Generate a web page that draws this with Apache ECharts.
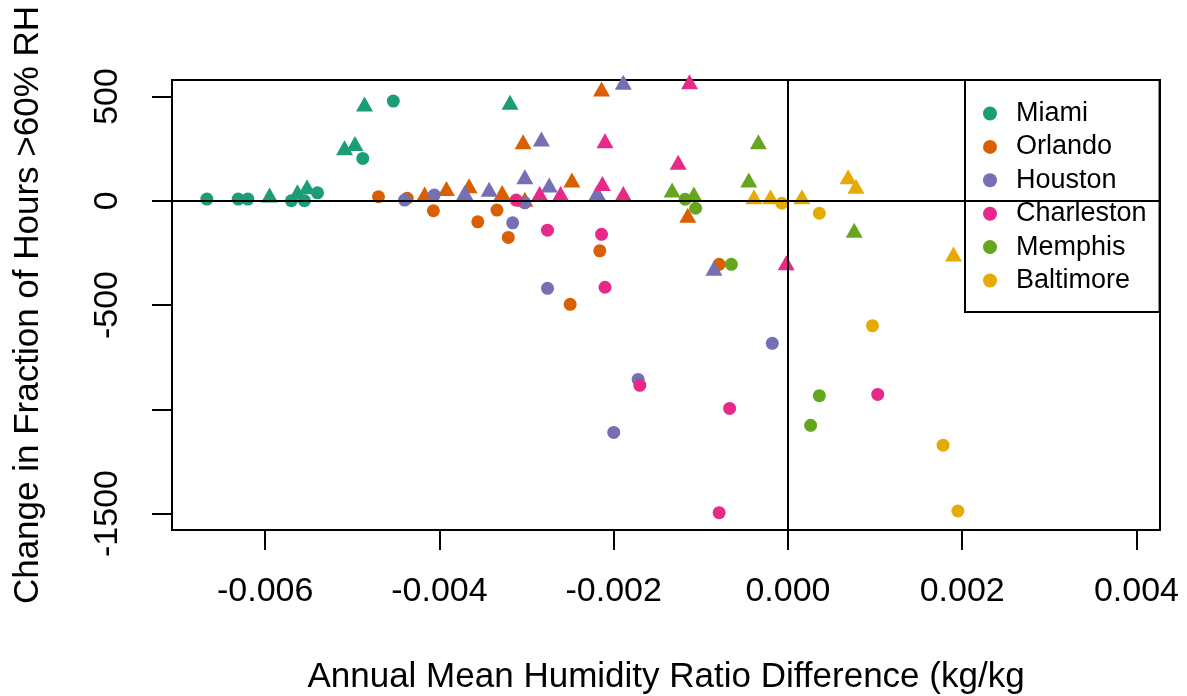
<!DOCTYPE html>
<html>
<head>
<meta charset="utf-8">
<script src="https://cdn.jsdelivr.net/npm/echarts@6/dist/echarts.min.js"></script>
<style>
html,body{margin:0;padding:0;background:#fff;}
#chart{width:1187px;height:696px;}
</style>
</head>
<body>
<div id="chart"></div>
<script>
// ---- Data (x: humidity ratio difference, y: change in hours) ----
var cities = ['Miami', 'Orlando', 'Houston', 'Charleston', 'Memphis', 'Baltimore'];
var cityColors = ['#1B9E77', '#D95F02', '#7570B3', '#E7298A', '#66A61E', '#E6AB02'];

var miamiCircles = [[-0.00667, 8], [-0.00631, 8], [-0.00620, 8], [-0.00570, 0], [-0.00555, 0], [-0.00540, 38], [-0.00488, 203], [-0.00453, 478]];
var miamiTriangles = [[-0.00595, 27], [-0.00563, 43], [-0.00552, 67], [-0.00509, 254], [-0.00497, 275], [-0.00486, 464], [-0.00319, 472]];

var orlandoCircles = [[-0.00470, 19], [-0.00437, 12], [-0.00407, -48], [-0.00356, -101], [-0.00334, -45], [-0.00321, -176], [-0.00216, -240], [-0.00250, -497], [-0.00079, -305]];
var orlandoTriangles = [[-0.00417, 32], [-0.00392, 59], [-0.00366, 72], [-0.00328, 40], [-0.00304, 283], [-0.00302, 7], [-0.00248, 99], [-0.00214, 536], [-0.00115, -69]];

var houstonCircles = [[-0.00440, 3], [-0.00406, 27], [-0.00316, -106], [-0.00302, -10], [-0.00276, -420], [-0.00018, -684], [-0.00172, -857], [-0.00200, -1111]];
var houstonTriangles = [[-0.00371, 40], [-0.00343, 55], [-0.00302, 115], [-0.00283, 296], [-0.00274, 75], [-0.00219, 40], [-0.00189, 568], [-0.00085, -324]];

var charlestonCircles = [[-0.00312, 3], [-0.00276, -141], [-0.00214, -161], [-0.00210, -415], [-0.00170, -885], [-0.00067, -996], [-0.00079, -1496], [0.00103, -929]];
var charlestonTriangles = [[-0.00285, 35], [-0.00261, 35], [-0.00210, 288], [-0.00213, 83], [-0.00189, 35], [-0.00126, 184], [-0.00113, 571], [-0.00002, -297]];

var memphisCircles = [[-0.00118, 7], [-0.00106, -36], [-0.00065, -305], [0.00036, -935], [0.00026, -1077]];
var memphisTriangles = [[-0.00133, 51], [-0.00108, 32], [-0.00045, 99], [-0.00034, 283], [0.00076, -141]];

var baltimoreCircles = [[-0.00007, -12], [0.00036, -60], [0.00097, -599], [0.00178, -1172], [0.00195, -1488]];
var baltimoreTriangles = [[-0.00039, 19], [-0.00020, 19], [0.00016, 19], [0.00069, 115], [0.00078, 70], [0.00190, -256]];

var xTicks = [-0.006, -0.004, -0.002, 0.000, 0.002, 0.004];
var yTicks = [-1500, -1000, -500, 0, 500];
var yTickLabels = [-1500, -500, 0, 500];

var circleSets = [miamiCircles, orlandoCircles, houstonCircles, charlestonCircles, memphisCircles, baltimoreCircles];
var triangleSets = [miamiTriangles, orlandoTriangles, houstonTriangles, charlestonTriangles, memphisTriangles, baltimoreTriangles];

var FONT = '"Liberation Sans", Arial, Helvetica, sans-serif';

var series = cities.map(function (name, i) {
  var data = [];
  circleSets[i].forEach(function (p) {
    data.push({ value: p, symbol: 'circle', symbolSize: 13 });
  });
  triangleSets[i].forEach(function (p) {
    data.push({ value: p, symbol: 'triangle', symbolSize: [17, 15] });
  });
  return {
    name: name,
    type: 'scatter',
    symbol: 'circle',
    symbolSize: 13,
    itemStyle: { color: cityColors[i], opacity: 1 },
    emphasis: { disabled: true },
    data: data
  };
});

series.push({
  name: 'ref',
  type: 'scatter',
  data: [],
  z: 10,
  silent: true,
  markLine: {
    silent: true,
    symbol: 'none',
    label: { show: false },
    animation: false,
    lineStyle: { color: '#000', width: 2, type: 'solid' },
    data: [{ xAxis: 0 }, { yAxis: 0 }]
  }
});

var chart = echarts.init(document.getElementById('chart'), null, { renderer: 'canvas' });
chart.setOption({
  animation: false,
  backgroundColor: '#fff',
  textStyle: { fontFamily: FONT },
  grid: {
    left: 172, right: 27, top: 80, bottom: 166,
    outerBoundsMode: 'none',
    show: true, borderColor: '#000', borderWidth: 2, containLabel: false
  },
  legend: {
    data: cities.map(function (c) { return { name: c, icon: 'circle' }; }),
    orient: 'vertical',
    left: 965,
    top: 80,
    itemWidth: 14,
    itemHeight: 14,
    itemGap: 6.4,
    padding: [20, 13, 18, 18],
    borderColor: '#000',
    borderWidth: 2,
    backgroundColor: '#fff',
    selectedMode: false,
    textStyle: { fontSize: 27, color: '#000', fontFamily: FONT, lineHeight: 27, padding: [0, 0, 0, 14] }
  },
  xAxis: {
    type: 'value',
    min: -0.00707,
    max: 0.00427,
    name: 'Annual Mean Humidity Ratio Difference (kg/kg',
    nameLocation: 'middle',
    nameGap: 130,
    nameTextStyle: { fontSize: 35, color: '#000', fontFamily: FONT },
    axisLine: { show: true, onZero: false, lineStyle: { color: '#000', width: 2 } },
    axisTick: { show: true, length: 20, customValues: xTicks, lineStyle: { color: '#000', width: 2 } },
    axisLabel: {
      customValues: xTicks,
      margin: 45,
      fontSize: 34,
      color: '#000',
      fontFamily: FONT,
      formatter: function (v) { return v.toFixed(3); }
    },
    splitLine: { show: false }
  },
  yAxis: {
    type: 'value',
    min: -1579,
    max: 579,
    name: 'Change in Fraction of Hours >60% RH',
    nameLocation: 'middle',
    nameRotate: 90,
    nameGap: 126,
    nameTextStyle: { fontSize: 35, color: '#000', fontFamily: FONT },
    axisLine: { show: true, onZero: false, lineStyle: { color: '#000', width: 2 } },
    axisTick: { show: true, length: 20, customValues: yTicks, lineStyle: { color: '#000', width: 2 } },
    axisLabel: {
      customValues: yTickLabels,
      rotate: 90,
      margin: 47,
      fontSize: 34,
      color: '#000',
      fontFamily: FONT,
      formatter: function (v) { return String(v); }
    },
    splitLine: { show: false }
  },
  series: series
});
</script>
</body>
</html>
